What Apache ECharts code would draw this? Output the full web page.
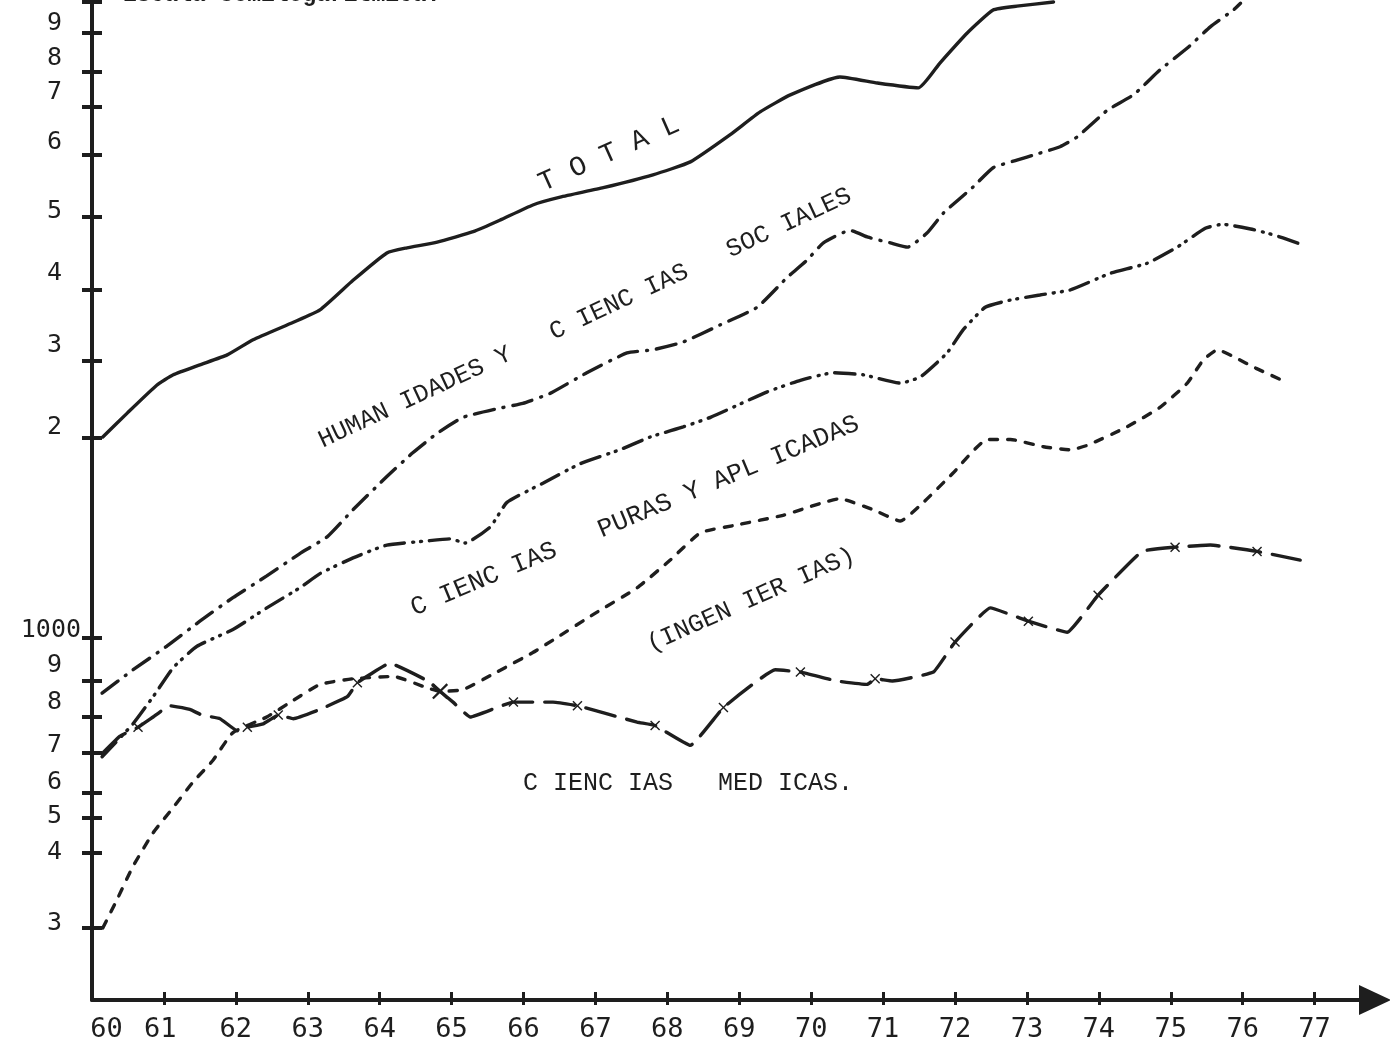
<!DOCTYPE html>
<html>
<head>
<meta charset="utf-8">
<script src="https://cdn.jsdelivr.net/npm/echarts@6/dist/echarts.min.js"></script>
<style>
  html, body { margin: 0; padding: 0; background: #fff; }
  #chart { width: 1390px; height: 1046px; }
</style>
</head>
<body>
<div id="chart"></div>
<script>
// hand drawn semilog scale: tick values and where the drafter put them (axis units, 0..1000)
var scaleValues = [300, 400, 500, 600, 700, 800, 900, 1000, 2000, 3000, 4000, 5000, 6000, 7000, 8000, 9000, 10000];
var scalePos = [72, 147, 182, 207, 247, 283, 319, 362, 562, 639, 710, 783, 845, 893, 928, 967, 998];
var yLabelText = ["9", "8", "7", "6", "5", "4", "3", "2", "1000", "9", "8", "7", "6", "5", "4", "3"];
var yLabelPos = [977, 942, 908, 858, 789, 727, 655, 573, 370, 335, 298, 255, 218, 184, 148, 77];

var xLabelText = ["60", "61", "62", "63", "64", "65", "66", "67", "68", "69", "70", "71", "72", "73", "74", "75", "76", "77"];
var xLabelPos = [60.2, 60.95, 62, 63, 64, 65, 66, 67, 68, 69, 70, 71, 72, 73, 74, 75, 76, 77];
var xTicks = [61, 62, 63, 64, 65, 66, 67, 68, 69, 70, 71, 72, 73, 74, 75, 76, 77];

// TOTAL
var totalYears = [60.15, 60.49, 60.90, 61.13, 61.50, 61.88, 62.24, 62.80, 63.17, 63.63, 64.10, 64.38, 64.80, 65.30, 65.67, 66.13, 66.51, 67.11, 67.80, 68.32, 68.87, 69.29, 69.71, 70.40, 70.92, 71.49, 71.79, 72.17, 72.53, 72.86, 73.37];
var totalValues = [2010, 2280, 2640, 2790, 2940, 3075, 3270, 3510, 3690, 4120, 4480, 4550, 4630, 4780, 4950, 5180, 5300, 5450, 5660, 5880, 6400, 6890, 7330, 7850, 7670, 7530, 8220, 9000, 9730, 9860, 10000];

// HUMANIDADES Y CIENCIAS SOCIALES
var humYears = [60.14, 60.57, 61.04, 61.50, 61.96, 62.43, 62.89, 63.27, 63.63, 64.10, 64.46, 64.80, 65.16, 65.67, 65.99, 66.37, 66.88, 67.44, 67.80, 68.22, 68.73, 69.25, 69.67, 69.94, 70.17, 70.54, 70.79, 71.10, 71.34, 71.61, 71.84, 72.25, 72.53, 72.86, 73.14, 73.46, 73.70, 74.12, 74.48, 74.85, 75.23, 75.55, 75.87, 75.97];
var humValues = [865, 925, 980, 1060, 1150, 1240, 1340, 1420, 1560, 1750, 1900, 2050, 2230, 2340, 2400, 2530, 2820, 3100, 3140, 3240, 3470, 3730, 4160, 4380, 4620, 4800, 4700, 4620, 4560, 4760, 5060, 5460, 5780, 5910, 6020, 6160, 6360, 6930, 7330, 8050, 8600, 9190, 9730, 9960];

// CIENCIAS PURAS Y APLICADAS
var purasYears = [60.14, 60.57, 60.85, 61.13, 61.46, 61.96, 62.43, 62.89, 63.17, 63.63, 64.10, 64.66, 64.98, 65.19, 65.54, 65.77, 66.27, 66.79, 67.34, 67.76, 68.22, 68.60, 69.39, 69.85, 70.31, 70.72, 71.24, 71.52, 71.89, 72.11, 72.42, 72.77, 73.18, 73.60, 74.16, 74.67, 75.09, 75.48, 75.72, 76.11, 76.34, 76.56, 76.84];
var purasValues = [690, 780, 855, 930, 980, 1030, 1110, 1190, 1250, 1320, 1380, 1400, 1410, 1390, 1470, 1600, 1710, 1830, 1920, 2010, 2120, 2230, 2550, 2710, 2820, 2790, 2670, 2760, 3100, 3400, 3730, 3840, 3920, 4000, 4210, 4340, 4560, 4830, 4890, 4820, 4760, 4690, 4590];

// (INGENIERIAS)
var ingYears = [60.15, 60.35, 60.57, 60.85, 61.13, 61.40, 61.68, 61.96, 62.43, 62.80, 63.17, 63.63, 64.19, 64.66, 64.84, 65.16, 65.63, 66.13, 66.41, 67.00, 67.58, 68.04, 68.46, 68.97, 69.61, 70.40, 70.86, 71.24, 71.56, 71.97, 72.45, 72.77, 73.23, 73.60, 73.84, 74.39, 74.85, 75.23, 75.45, 75.65, 75.90, 76.18, 76.55];
var ingValues = [300, 335, 380, 455, 540, 625, 680, 755, 800, 845, 890, 905, 910, 880, 870, 875, 920, 965, 995, 1090, 1190, 1310, 1440, 1480, 1530, 1620, 1560, 1500, 1600, 1770, 1990, 1990, 1940, 1920, 1950, 2120, 2350, 2670, 3010, 3140, 3040, 2890, 2710];

// CIENCIAS MEDICAS
var medYears = [60.15, 60.39, 60.64, 60.85, 61.08, 61.36, 61.53, 61.78, 62.02, 62.16, 62.38, 62.59, 62.80, 63.17, 63.55, 63.69, 63.87, 64.14, 64.67, 64.84, 65.02, 65.26, 65.86, 66.41, 66.75, 67.58, 67.83, 68.32, 68.78, 69.50, 69.85, 70.36, 70.78, 70.89, 71.13, 71.70, 72.00, 72.49, 73.02, 73.56, 73.99, 74.60, 75.06, 75.55, 76.20, 76.80];
var medValues = [700, 745, 770, 800, 830, 820, 805, 795, 760, 770, 780, 805, 795, 820, 855, 895, 915, 940, 900, 870, 840, 800, 840, 840, 830, 785, 775, 720, 825, 925, 920, 900, 890, 905, 900, 920, 990, 1110, 1060, 1020, 1160, 1350, 1370, 1380, 1350, 1310];
var medMarkYears = [60.64, 62.16, 62.59, 63.69, 65.86, 66.75, 67.83, 68.78, 69.85, 70.89, 72.00, 73.02, 73.99, 75.06, 76.20];
var medCrossYear = 64.84;

var ink = "#1e1e1e";
var typeFont = "'Liberation Mono', 'DejaVu Sans Mono', monospace";
var numFont = "'DejaVu Sans Mono', monospace";
var crossPath = "path://M0,1L1,0L5,4L9,0L10,1L6,5L10,9L9,10L5,6L1,10L0,9L4,5Z";

function toAxis(v) {
  for (var i = 0; i < scaleValues.length - 1; i++) {
    if (v <= scaleValues[i + 1] || i === scaleValues.length - 2) {
      var t = Math.log(v / scaleValues[i]) / Math.log(scaleValues[i + 1] / scaleValues[i]);
      return scalePos[i] + t * (scalePos[i + 1] - scalePos[i]);
    }
  }
}

function pairs(years, values) {
  return years.map(function (y, i) { return [y, toAxis(values[i])]; });
}

var medData = medYears.map(function (y, i) {
  var item = { value: [y, toAxis(medValues[i])] };
  if (y === medCrossYear) {
    item.symbol = crossPath; item.symbolSize = 16;
  } else if (medMarkYears.indexOf(y) >= 0) {
    item.symbol = crossPath; item.symbolSize = 10;
  } else {
    item.symbol = "none";
  }
  return item;
});

function lineSeries(name, data, dash) {
  return {
    name: name,
    type: "line",
    data: data,
    showSymbol: false,
    symbol: "none",
    smooth: 0.15,
    silent: true,
    lineStyle: { color: ink, width: 3.4, type: dash, cap: "round" }
  };
}

function annot(text, x, y, deg, size) {
  return {
    type: "text",
    x: x,
    y: y,
    rotation: deg * Math.PI / 180,
    style: {
      text: text,
      fill: ink,
      font: size + "px " + typeFont,
      align: "center",
      verticalAlign: "middle"
    }
  };
}

var option = {
  animation: false,
  backgroundColor: "#fff",
  grid: { left: 92, right: 15, top: 0, bottom: 46 },
  xAxis: [
    {
      type: "value",
      min: 60,
      max: 77.84,
      axisLine: {
        show: true,
        symbol: ["none", "triangle"],
        symbolSize: [30, 32],
        lineStyle: { color: ink, width: 4 }
      },
      axisTick: { show: true, customValues: xTicks, length: 5, lineStyle: { color: ink, width: 3 } },
      axisLabel: {
        customValues: xLabelPos,
        formatter: function (v) { return xLabelText[xLabelPos.indexOf(v)]; },
        color: ink,
        fontFamily: numFont,
        fontSize: 27,
        margin: 16
      },
      splitLine: { show: false }
    },
    {
      type: "value",
      min: 60,
      max: 77.84,
      position: "bottom",
      axisLine: { show: false },
      axisTick: { show: true, inside: true, customValues: xTicks, length: 8, lineStyle: { color: ink, width: 3 } },
      axisLabel: { show: false },
      splitLine: { show: false }
    }
  ],
  yAxis: [
    {
      type: "value",
      min: 0,
      max: 1000,
      axisLine: { show: true, lineStyle: { color: ink, width: 4 } },
      axisTick: { show: true, customValues: scalePos, length: 10, lineStyle: { color: ink, width: 4 } },
      axisLabel: {
        customValues: yLabelPos,
        formatter: function (v) {
          var t = yLabelText[yLabelPos.indexOf(v)];
          return t.length > 1 ? "{w|" + t + "}" : "{d|" + t + "}";
        },
        margin: 11,
        rich: {
          w: { color: ink, fontFamily: numFont, fontSize: 25 },
          d: { color: ink, fontFamily: numFont, fontSize: 25, padding: [0, 19, 0, 0] }
        }
      },
      splitLine: { show: false }
    },
    {
      type: "value",
      min: 0,
      max: 1000,
      position: "left",
      axisLine: { show: false },
      axisTick: { show: true, inside: true, customValues: scalePos, length: 10, lineStyle: { color: ink, width: 4 } },
      axisLabel: { show: false },
      splitLine: { show: false }
    }
  ],
  series: [
    lineSeries("TOTAL", pairs(totalYears, totalValues), "solid"),
    lineSeries("HUMANIDADES Y CIENCIAS SOCIALES", pairs(humYears, humValues), [20, 9, 1, 9]),
    lineSeries("CIENCIAS PURAS Y APLICADAS", pairs(purasYears, purasValues), [20, 8, 1, 7, 1, 8]),
    lineSeries("(INGENIERIAS)", pairs(ingYears, ingValues), [8, 10]),
    {
      name: "CIENCIAS MEDICAS",
      type: "line",
      data: medData,
      smooth: 0.1,
      silent: true,
      itemStyle: { color: ink },
      lineStyle: { color: ink, width: 3.4, type: [30, 12], cap: "round" }
    }
  ],
  graphic: [
    {
      type: "text",
      left: 123,
      top: -16,
      style: { text: "Escala Semilogarítmica.", fill: ink, font: "bold 23px " + typeFont }
    },
    annot("T O T A L", 609, 154, 24, 28),
    annot("HUMAN IDADES Y   C IENC IAS   SOC IALES", 585, 318, 25, 25),
    annot("C IENC IAS   PURAS Y APL ICADAS", 635, 516, 22.7, 26),
    annot("(INGEN IER IAS)", 751, 600, 24, 25),
    annot("C IENC IAS   MED ICAS.", 688, 783, 0, 25)
  ]
};

var chart = echarts.init(document.getElementById("chart"));
chart.setOption(option);
</script>
</body>
</html>
